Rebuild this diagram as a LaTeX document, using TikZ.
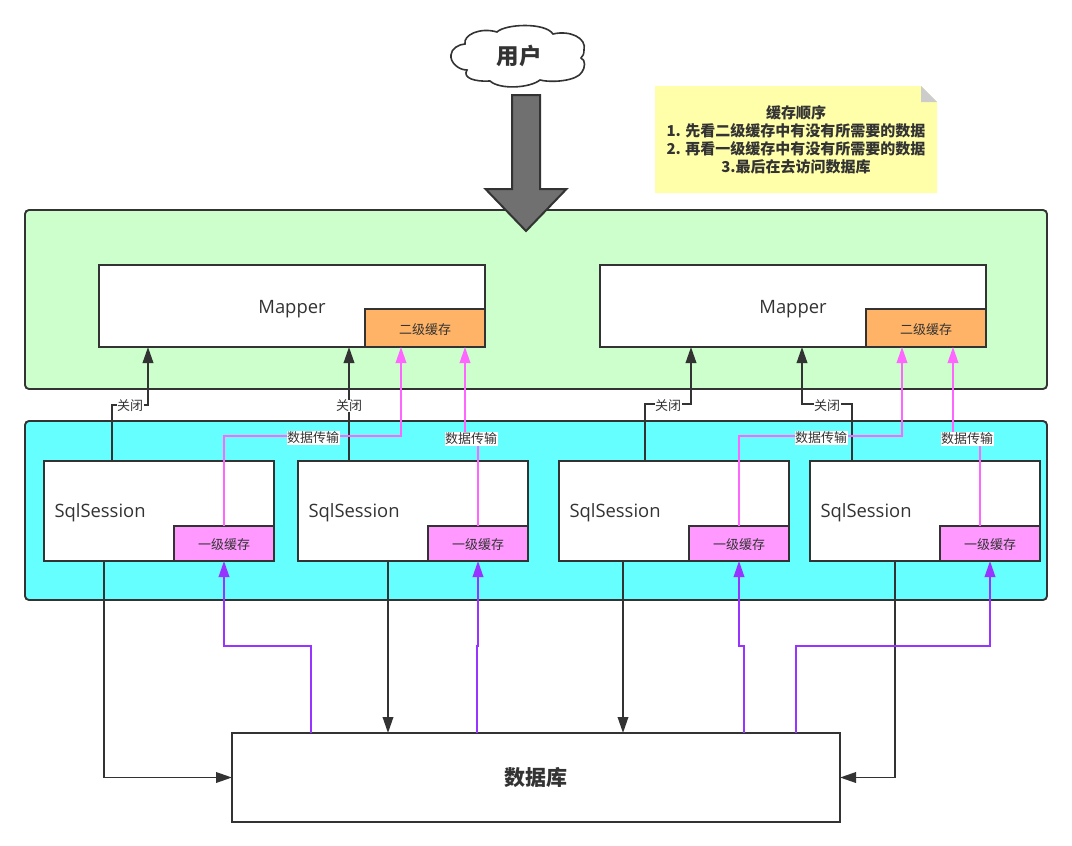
\documentclass[tikz,border=0pt]{standalone}
\usepackage{fontspec}
\setmainfont{Noto Sans CJK SC}
\newfontfamily\latinf{Open Sans}
\usetikzlibrary{arrows.meta,calc}
\definecolor{ink}{HTML}{333333}
\definecolor{greenbg}{HTML}{CCFFCC}
\definecolor{cyanbg}{HTML}{66FFFF}
\definecolor{orangebg}{HTML}{FFB366}
\definecolor{pinkbg}{HTML}{FF99FF}
\definecolor{pinkline}{HTML}{FF66FF}
\definecolor{purpleline}{HTML}{9933FF}
\definecolor{notebg}{HTML}{FFFFAA}
\definecolor{foldc}{HTML}{CCCCCC}
\definecolor{bigarrow}{HTML}{707070}
\tikzset{
  x=1pt,y=-1pt,
  every node/.style={inner sep=0pt,outer sep=0pt,text=ink},
  panel/.style={draw=ink,line width=1.9pt,rounded corners=4pt,minimum width=1022pt,minimum height=179pt},
  mapperbox/.style={draw=ink,fill=white,line width=2pt,minimum width=386pt,minimum height=82pt},
  sessbox/.style={draw=ink,fill=white,line width=2pt,minimum width=230pt,minimum height=100pt},
  lvtwo/.style={draw=ink,fill=orangebg,line width=2pt,minimum width=120pt,minimum height=38pt},
  lvone/.style={draw=ink,fill=pinkbg,line width=2pt,minimum width=100pt,minimum height=35pt},
  cachetxt/.style={font=\fontsize{13}{15}\selectfont},
  bigtxt/.style={font=\latinf\fontsize{18.4}{22}\selectfont},
  tag/.style={fill=white,inner sep=0.5pt,font=\fontsize{13}{14}\selectfont},
  closeline/.style={draw=ink,line width=2pt,-{Triangle[length=16pt,width=10.5pt]}},
  dbline/.style={draw=ink,line width=1.9pt,-{Triangle[length=16pt,width=10.5pt]}},
  pinkarrow/.style={draw=pinkline,line width=1.9pt,-{Triangle[length=16pt,width=10.5pt]}},
  purplearrow/.style={draw=purpleline,line width=1.9pt,-{Triangle[length=16pt,width=10.5pt]}},
}
\begin{document}
\begin{tikzpicture}
\useasboundingbox (0,0) rectangle (1072,846);
% panels
\node[panel,fill=greenbg] (green) at (536,299.5) {};
\node[panel,fill=cyanbg] (cyan) at (536,510.5) {};
% mappers
\node[mapperbox] (m1) at (292,306) {};
\node[mapperbox] (m2) at (793,306) {};
\node[bigtxt] at (292,309) {Mapper};
\node[bigtxt] at (793,309) {Mapper};
\node[lvtwo] (c21) at (425,328) {};
\node[lvtwo] (c22) at (926,328) {};
\foreach \n in {21,22}{\node[cachetxt] at ($(c\n.center)+(0,1.5)$) {二级缓存};}
% sessions
\node[sessbox] (s1) at (159,511) {};
\node[sessbox] (s2) at (413,511) {};
\node[sessbox] (s3) at (674,511) {};
\node[sessbox] (s4) at (925,511) {};
\foreach \n in {1,2,3,4}{\node[bigtxt,anchor=west] at ($(s\n.west)+(10.5,2)$) {SqlSession};}
\node[lvone] (c11) at (224,543.5) {};
\node[lvone] (c12) at (478,543.5) {};
\node[lvone] (c13) at (739,543.5) {};
\node[lvone] (c14) at (990,543.5) {};
\foreach \n in {11,12,13,14}{\node[cachetxt] at ($(c\n.center)+(0,1.5)$) {一级缓存};}
% database
\node[draw=ink,fill=white,line width=2pt,minimum width=608pt,minimum height=89pt,font=\bfseries\fontsize{21}{24}\selectfont] (db) at (536,777.5) {数据库};
% user cloud
\path[draw=ink,fill=white,line width=1.6pt]
 (451,55) .. controls (451,49) and (459,44) .. (465,44)
 .. controls (463,35) and (480,27) .. (497,32)
 .. controls (505,24) and (545,22) .. (553,34)
 .. controls (570,30) and (587,38) .. (584,50)
 .. controls (584,54) and (583,56) .. (581,58)
 .. controls (586,60) and (585,68) .. (582,72)
 .. controls (577,81) and (552,83) .. (540,80)
 .. controls (530,88) and (500,90) .. (490,81)
 .. controls (475,82) and (462,78) .. (467,70)
 .. controls (458,70) and (450,62) .. (451,55) -- cycle;
\node[font=\bfseries\fontsize{22.5}{24}\selectfont] (user) at (519,56) {用户};
% big arrow
\path[draw=ink,fill=bigarrow,line width=2pt,line join=miter]
 (512,95) -- (540,95) -- (540,189) -- (566.5,189) -- (526,231) -- (485.5,189) -- (512,189) -- cycle;
% note
\path[fill=notebg] (655,86) -- (921,86) -- (937,102) -- (937,193) -- (655,193) -- cycle;
\path[fill=foldc] (921,86) -- (937,102) -- (921,102) -- cycle;
\node[font=\bfseries\fontsize{15}{18}\selectfont,align=center] (note) at (796,140) {缓存顺序\\1. 先看二级缓存中有没有所需要的数据\\2. 再看一级缓存中有没有所需要的数据\\3.最后在去访问数据库};
% black close arrows
\draw[closeline] ([xshift=68pt]s1.north west) |- (130,405) -| ([xshift=49pt]m1.south west);
\draw[closeline] ([xshift=51pt]s2.north west) -- ([xshift=250pt]m1.south west);
\draw[closeline] ([xshift=86pt]s3.north west) |- (668,404) -| ([xshift=91pt]m2.south west);
\draw[closeline] ([xshift=42pt]s4.north west) |- (827,404) -| ([xshift=202pt]m2.south west);
\node[tag] at (130,406) {关闭};
\node[tag] at (349,406) {关闭};
\node[tag] at (668,406) {关闭};
\node[tag] at (827,406) {关闭};
% pink arrows
\draw[pinkarrow] (c11.north) |- (313,436) -| ([xshift=36pt]c21.south west);
\draw[pinkarrow] (c12.north) |- (471,438) -| ([xshift=100pt]c21.south west);
\draw[pinkarrow] (c13.north) |- (821,436) -| ([xshift=36pt]c22.south west);
\draw[pinkarrow] ([xshift=-10pt]c14.north) |- (967,438) -| ([xshift=87pt]c22.south west);
\node[tag] at (313,438) {数据传输};
\node[tag] at (471,439) {数据传输};
\node[tag] at (821,438) {数据传输};
\node[tag] at (967,439) {数据传输};
% black database arrows
\draw[dbline] ([xshift=60pt]s1.south west) |- (db.west);
\draw[dbline] ([xshift=90pt]s2.south west) -- ([xshift=156pt]db.north west);
\draw[dbline] ([xshift=64pt]s3.south west) -- ([xshift=391pt]db.north west);
\draw[dbline] ([xshift=85pt]s4.south west) |- (db.east);
% purple arrows
\draw[purplearrow] ([xshift=79pt]db.north west) |- (268,646) -| (c11.south);
\draw[purplearrow] ([xshift=245pt]db.north west) -- ++(0,-87) -- ++(1,0) -- (c12.south);
\draw[purplearrow] ([xshift=512pt]db.north west) -- ++(0,-87) -| (c13.south);
\draw[purplearrow] ([xshift=564pt]db.north west) |- (890,646) -| (c14.south);
\end{tikzpicture}
\end{document}
